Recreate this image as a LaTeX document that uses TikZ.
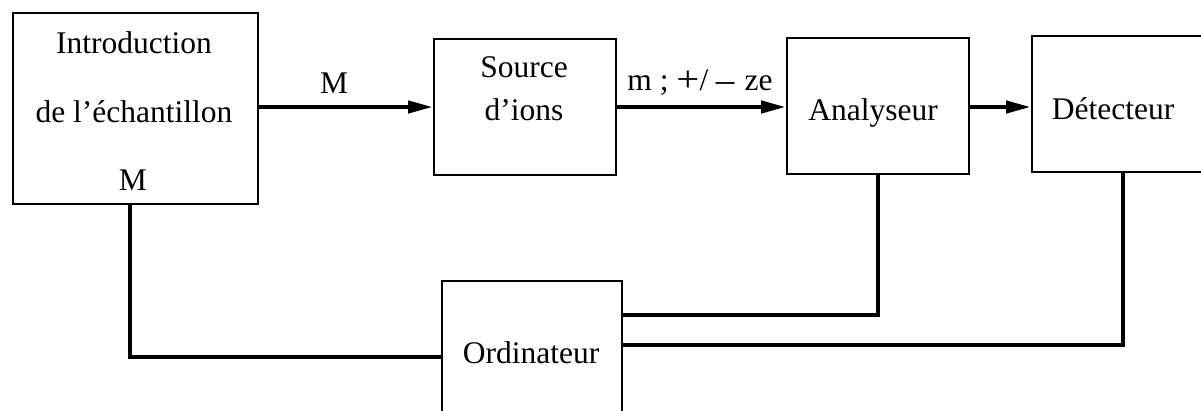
\documentclass[tikz,border=0pt]{standalone}
\usepackage{fontspec}
\setmainfont{Liberation Serif}
\usetikzlibrary{arrows.meta}
\newcommand{\bigop}[2][-1.5pt]{\raisebox{#1}{\scalebox{1.3}[1.15]{#2}}}
\begin{document}
\begin{tikzpicture}[x=1pt,y=-1pt,
  box/.style={draw=black,line width=2pt,rectangle,inner sep=0pt,anchor=north west},
  txt/.style={inner sep=0pt,anchor=base,font=\fontsize{31.5}{38}\selectfont},
  flow/.style={line width=4.5pt,-{Triangle[length=25pt,width=12pt]}},
  wire/.style={line width=3.5pt}]
\useasboundingbox (0,0) rectangle (1201,410);
\begin{scope}
\clip (0,0) rectangle (1201,410);
% boxes
\node[box,minimum width=245pt,minimum height=191pt] (intro) at (12,12) {};
\node[box,minimum width=182pt,minimum height=136pt] (src) at (433,38) {};
\node[box,minimum width=182pt,minimum height=136pt] (ana) at (786,37) {};
\node[box,minimum width=184pt,minimum height=136pt] (det) at (1031,35) {};
\node[box,minimum width=180pt,minimum height=150pt] (ord) at (441,280) {};
% texts
\node[txt] (t1) at (134,53) {Introduction};
\node[txt] (t2) at (134,122) {de l’échantillon};
\node[txt] (t3) at (133,190) {M};
\node[txt] (t4) at (524,77) {Source};
\node[txt] (t5) at (524,120) {d’ions};
\node[txt] (t6) at (873,120) {Analyseur};
\node[txt] (t7) at (1113,119) {Détecteur};
\node[txt] (t8) at (531,363) {Ordinateur};
\node[txt] (l1) at (334,93) {M};
\node[txt] (l2) at (700,90) {m ; \bigop{+}/\,\bigop[-5pt]{−} ze};
% connectors
\coordinate (ix) at (130,0);
\coordinate (ya) at (0,315);
\coordinate (yd) at (0,345);
\coordinate (yi) at (0,357);
\draw[flow] (intro.east |- 0,107) -- (src.west |- 0,107);
\draw[flow] (src.east |- 0,107) -- (ana.west |- 0,107);
\draw[flow] (ana.east |- 0,107) -- (det.west |- 0,107);
\draw[wire] (intro.south -| ix) -- (ix |- yi) -- (ord.west |- yi);
\draw[wire,line width=4pt] (ana.south) -- (ana.south |- ya) -- (ord.east |- ya);
\draw[wire] (det.south -| 1123,0) -- (1123,345) -- (ord.east |- yd);
\end{scope}
\end{tikzpicture}
\end{document}
